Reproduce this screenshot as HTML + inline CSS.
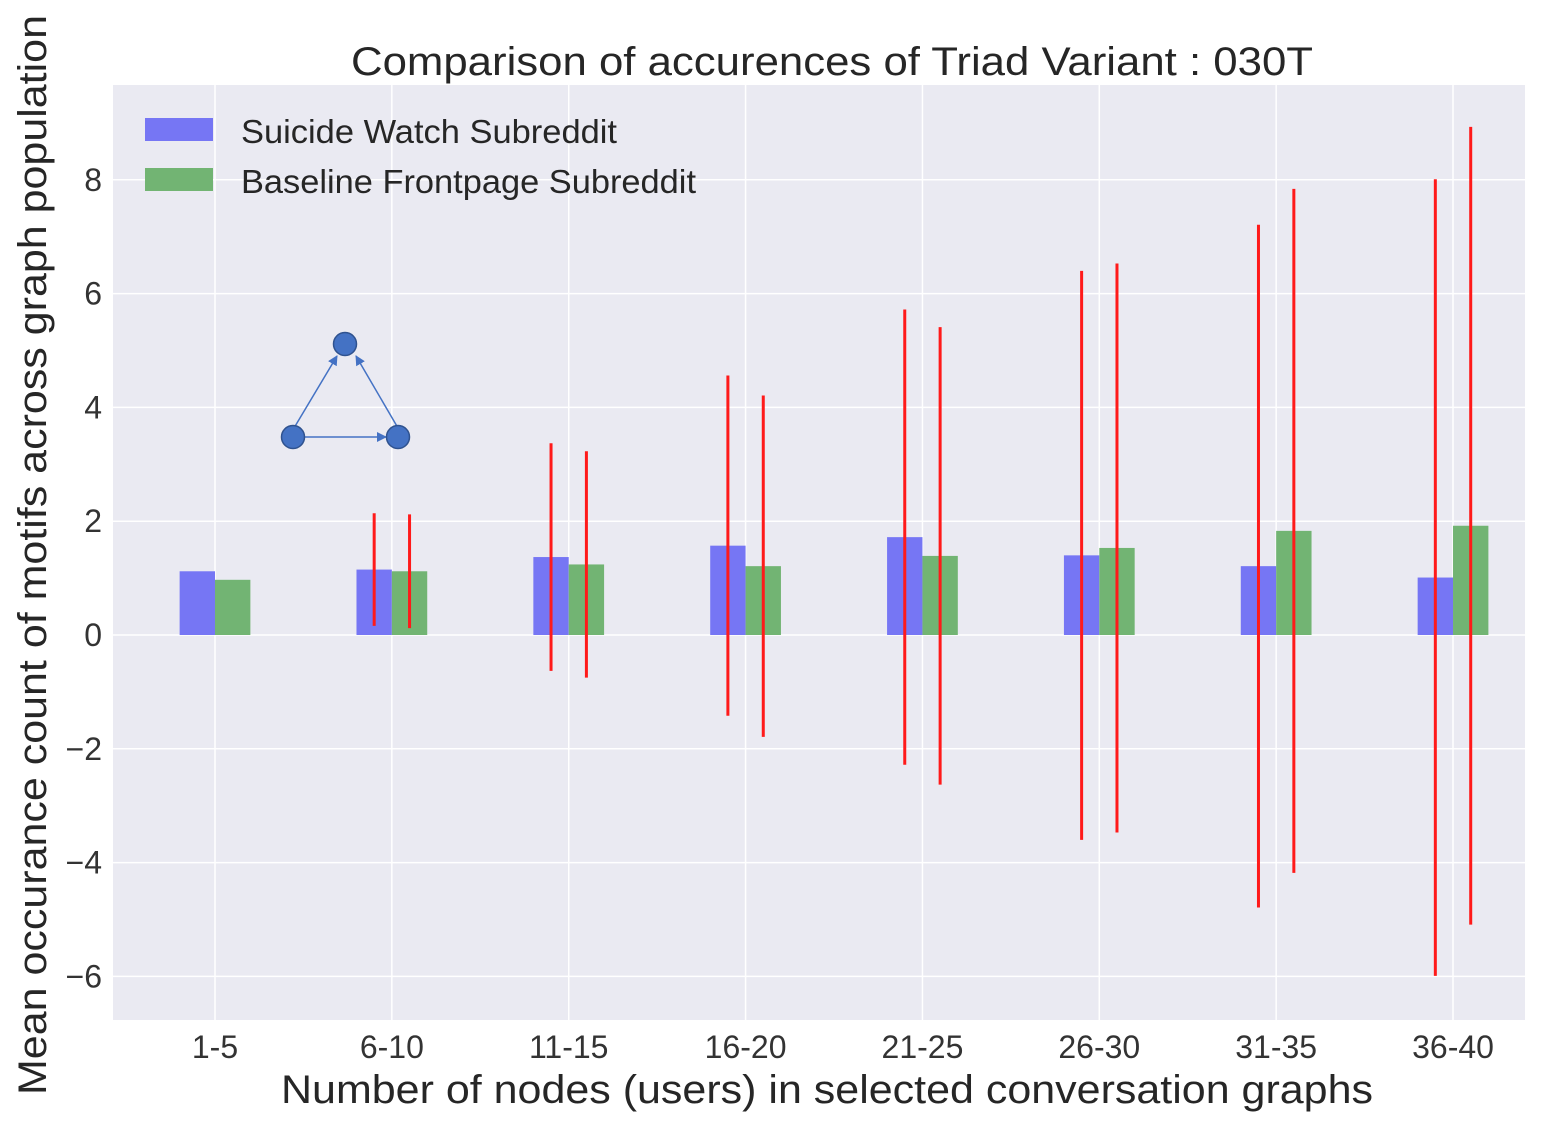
<!DOCTYPE html>
<html><head><meta charset="utf-8"><style>
body{margin:0;background:#fff;}
svg{display:block;font-family:"Liberation Sans",sans-serif;}
</style></head><body>
<svg id="chart" width="1564" height="1125" viewBox="0 0 1564 1125" xmlns="http://www.w3.org/2000/svg">
<rect x="113" y="85" width="1412" height="935" fill="#eaeaf2"/>
<g id="grid"></g>
<g id="bars"></g>
<g id="errs"></g>
<g id="ticks"></g>
<text x="351" y="75" font-size="40" textLength="962" lengthAdjust="spacingAndGlyphs" fill="#262626">Comparison of accurences of Triad Variant  : 030T</text>
<text x="281" y="1103" font-size="40" textLength="1092" lengthAdjust="spacingAndGlyphs" fill="#262626">Number of nodes (users) in selected conversation graphs</text>
<text transform="translate(46,1095) rotate(-90)" font-size="40" textLength="1080" lengthAdjust="spacingAndGlyphs" fill="#262626">Mean occurance count of motifs across graph population</text>
<g>
<rect x="145" y="118" width="68" height="23" fill="#7676f4"/>
<text x="241" y="143" font-size="33" textLength="376" lengthAdjust="spacingAndGlyphs" fill="#262626">Suicide Watch Subreddit</text>
<rect x="145" y="168" width="68" height="23" fill="#72b473"/>
<text x="241" y="193" font-size="33" textLength="455" lengthAdjust="spacingAndGlyphs" fill="#262626">Baseline Frontpage Subreddit</text>
</g>
<g>
<defs><marker id="ah" markerWidth="10" markerHeight="10" refX="9" refY="5" orient="auto" markerUnits="userSpaceOnUse"><path d="M0,0 L10,5 L0,10 z" fill="#4472c4"/></marker></defs>
<line x1="294" y1="428" x2="337" y2="356" stroke="#4472c4" stroke-width="1.5" marker-end="url(#ah)"/>
<line x1="398" y1="428" x2="356" y2="356" stroke="#4472c4" stroke-width="1.5" marker-end="url(#ah)"/>
<line x1="305" y1="437" x2="386" y2="437" stroke="#4472c4" stroke-width="1.5" marker-end="url(#ah)"/>
<circle cx="345" cy="344" r="11.5" fill="#4472c4" stroke="#2f528f" stroke-width="1.5"/>
<circle cx="293" cy="437" r="11.5" fill="#4472c4" stroke="#2f528f" stroke-width="1.5"/>
<circle cx="398" cy="437" r="11.5" fill="#4472c4" stroke="#2f528f" stroke-width="1.5"/>
</g>
</svg>
<script>
const categories=["1-5","6-10","11-15","16-20","21-25","26-30","31-35","36-40"];
const suicideMeans=[1.12,1.15,1.37,1.57,1.72,1.40,1.21,1.01];
const baselineMeans=[0.97,1.12,1.24,1.21,1.39,1.53,1.83,1.92];
const suicideErr=[0,0.99,2.0,2.99,4.0,5.0,6.0,7.0];
const baselineErr=[0,1.0,1.99,3.0,4.02,5.0,6.01,7.01];
const yTicks=[-6,-4,-2,0,2,4,6,8];
const NS="http://www.w3.org/2000/svg";
const yS=v=>635-v*56.9;
const xS=i=>215+i*176.86;
const bw=0.2*176.86;
function mk(tag,attrs,parent){const e=document.createElementNS(NS,tag);for(const k in attrs)e.setAttribute(k,attrs[k]);document.getElementById(parent).appendChild(e);return e;}
yTicks.forEach(t=>{
 const l=mk('line',{x1:113,x2:1525,y1:yS(t),y2:yS(t),stroke:'#fff','stroke-width':1.5},'grid');
 
 
 const tx=mk('text',{x:102,y:yS(t)+11,'font-size':32,'text-anchor':'end',fill:'#333'},'ticks');
 tx.textContent=(t<0?'\u2212'+(-t):t);
 
 
});
categories.forEach((c,i)=>{
 const l=mk('line',{x1:xS(i),x2:xS(i),y1:85,y2:1020,stroke:'#fff','stroke-width':1.5},'grid');
 
 
 const tx=mk('text',{x:xS(i),y:1058,'font-size':32,'text-anchor':'middle',fill:'#333'},'ticks');
 tx.textContent=c;
 
 
 [[suicideMeans,suicideErr,'#7676f4',-1,'suicide'],[baselineMeans,baselineErr,'#72b473',0,'baseline']].forEach(([m,e,col,off,nm])=>{
  const x0=xS(i)+off*bw;
  const v=m[i];
  const b=mk('rect',{x:x0,y:Math.min(yS(v),yS(0)),width:bw,height:Math.abs(yS(v)-yS(0)),fill:col},'bars');
  
  
  if(e[i]>0){
   const er=mk('line',{x1:x0+bw/2,x2:x0+bw/2,y1:yS(v+e[i]),y2:yS(v-e[i]),stroke:'#ff1a1a','stroke-width':3},'errs');
   
   
  }
 });
});
</script>
</body></html>
